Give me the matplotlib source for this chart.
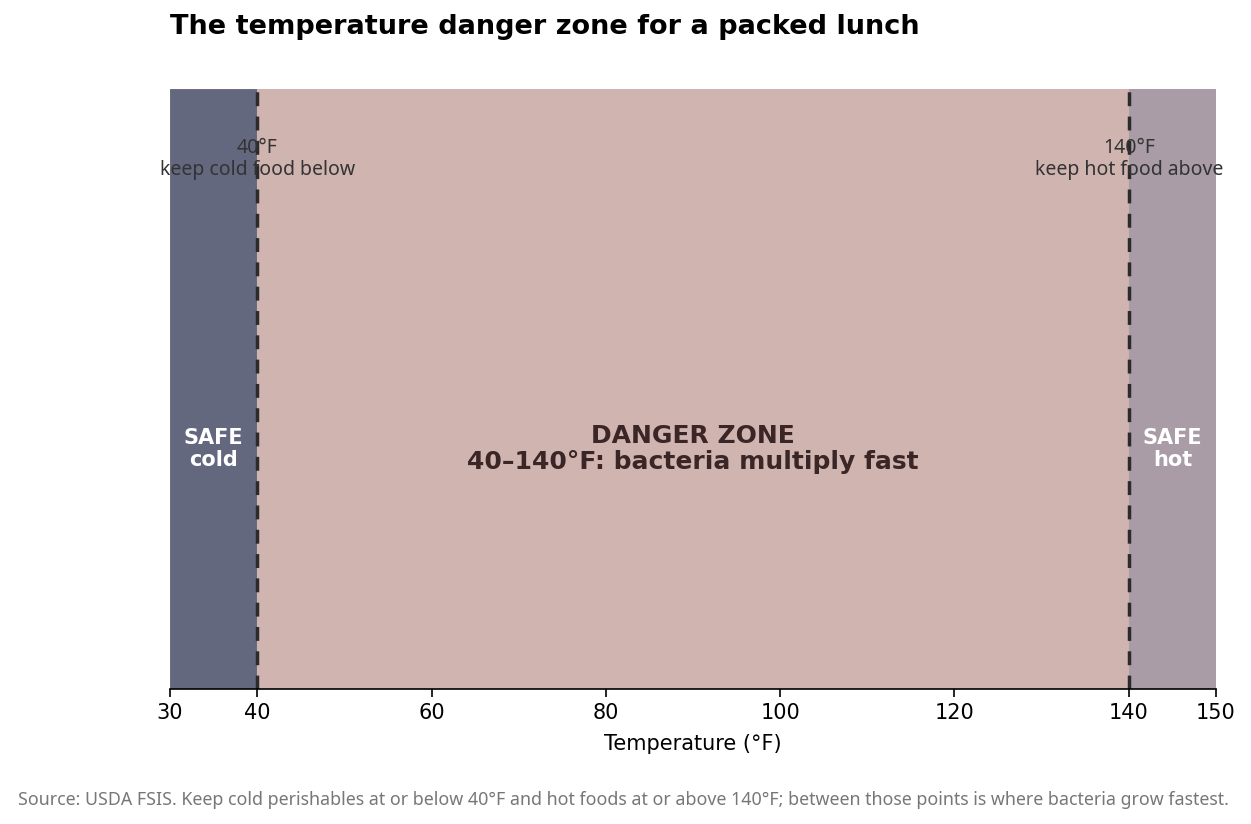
import matplotlib
matplotlib.use("Agg")
import matplotlib.pyplot as plt

# Datos
zonas = ["SAFE\ncold", "DANGER ZONE\n40–140°F: bacteria multiply fast", "SAFE\nhot"]
limites = [30, 40, 140, 150]
colores = ["#64687e", "#d0b4b0", "#a99ca6"]
umbrales = [40, 140]
etiquetas_umbral = ["40°F\nkeep cold food below", "140°F\nkeep hot food above"]
ticks = [30, 40, 60, 80, 100, 120, 140, 150]

fig = plt.figure(figsize=(12.51, 8.24), dpi=100)
ax = fig.add_axes([0.1359, 0.1638, 0.8361, 0.7282])

for i, zona in enumerate(zonas):
    ax.axvspan(limites[i], limites[i + 1], color=colores[i], ec="#6f6f80" if i == 0 else colores[i], lw=0.8)
    xc = (limites[i] + limites[i + 1]) / 2
    if i == 1:
        ax.text(xc, 0.4, zona, ha="center", va="center", fontsize=18, fontweight="bold",
                color="#3a2626", linespacing=1.1)
    else:
        ax.text(xc, 0.4, zona, ha="center", va="center", fontsize=15, fontweight="bold",
                color="white", linespacing=1.1)

for u, etq in zip(umbrales, etiquetas_umbral):
    ax.axvline(u, color="#2b2b2b", lw=2.5, ls=(0, (4, 3)))
    ax.text(u, 0.883, etq, ha="center", va="center", fontsize=14, color="#333333",
            family=["Noto Sans", "DejaVu Sans"], linespacing=1.15)

ax.set_xlim(30, 150)
ax.set_ylim(0, 1)
ax.set_xticks(ticks)
ax.tick_params(axis="x", labelsize=15, length=6, width=1.2, pad=4)
ax.set_yticks([])
ax.set_xlabel("Temperature (°F)", fontsize=15, labelpad=8)
for lado in ["top", "right", "left"]:
    ax.spines[lado].set_visible(False)
ax.spines["bottom"].set_linewidth(1.2)

fig.text(0.1359, 1 - 27 / 824, "The temperature danger zone for a packed lunch",
         ha="left", va="center", fontsize=19.5, fontweight="bold")
fig.text(0.498, 1 - 800 / 824,
         "Source: USDA FSIS. Keep cold perishables at or below 40°F and hot foods at or above 140°F; between those points is where bacteria grow fastest.",
         ha="center", va="center", fontsize=12.8, color="#777777", family=["Noto Sans", "DejaVu Sans"])

fig.savefig("out.png", dpi=100)
